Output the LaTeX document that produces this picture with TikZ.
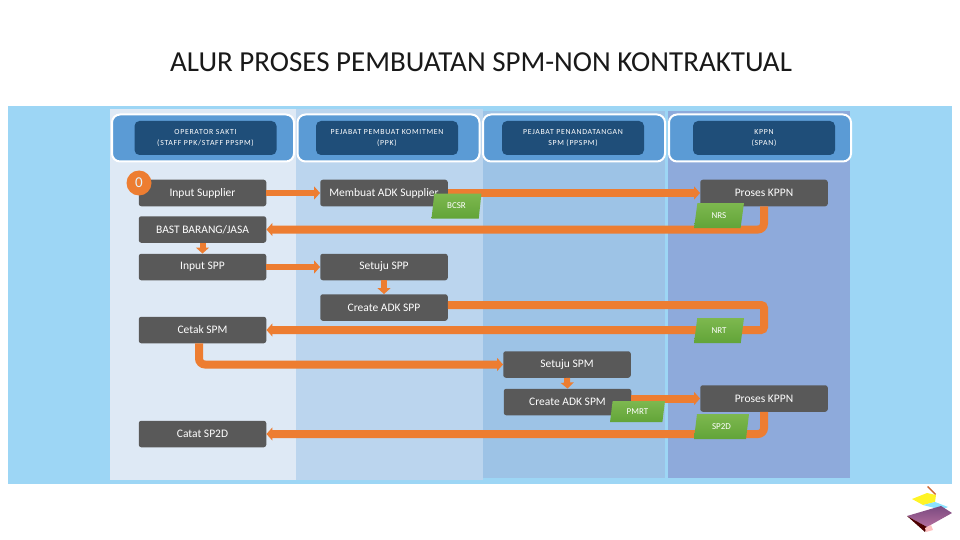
\documentclass[tikz,border=0pt]{standalone}
\usepackage{fontspec}
\setmainfont{Carlito}
\newfontfamily\headfont[LetterSpace=9]{Carlito}
\usetikzlibrary{arrows.meta,shapes.geometric}
\definecolor{bandblue}{HTML}{9DD6F5}
\definecolor{laneone}{HTML}{DEE9F5}
\definecolor{lanetwo}{HTML}{BBD5EE}
\definecolor{lanethree}{HTML}{9DC3E6}
\definecolor{lanefour}{HTML}{8EAADB}
\definecolor{headouter}{HTML}{5B9BD5}
\definecolor{headinner}{HTML}{1F4E79}
\definecolor{procgray}{HTML}{595959}
\definecolor{flowor}{HTML}{ED7D31}
\definecolor{greentop}{HTML}{7DB84F}
\definecolor{greenlow}{HTML}{62A438}
\definecolor{logotop}{HTML}{7A4A80}
\definecolor{logolow}{HTML}{B46E9E}
\begin{document}
\begin{tikzpicture}[x=1pt,y=-1pt,
    headouter/.style={draw=white,line width=2pt,rounded corners=8pt,fill=headouter,
        minimum width=182pt,minimum height=47pt,inner sep=0pt},
    headinner/.style={fill=headinner,rounded corners=5pt,text=white,align=center,
        minimum width=142pt,minimum height=34pt,inner sep=0pt,font=\fontsize{7.8}{11.5}\headfont},
    procbox/.style={fill=procgray,rounded corners=2.5pt,text=white,
        minimum width=127.5pt,minimum height=26.5pt,inner sep=0pt,font=\fontsize{11.5}{13}\selectfont},
    docbox/.style={trapezium,trapezium left angle=79,trapezium right angle=101,trapezium stretches=true,
        top color=greentop,bottom color=greenlow,text=white,
        minimum width=50pt,minimum height=25pt,inner sep=0pt,font=\fontsize{9}{10}\selectfont},
    bigflow/.style={draw=flowor,line width=8pt,rounded corners=6pt,-{Triangle[width=13pt,length=6pt]}},
    midflow/.style={draw=flowor,line width=6.5pt,-{Triangle[width=13pt,length=6pt]}}]
    \useasboundingbox (0,0) rectangle (960,540);

    \node[text=black!90,font=\fontsize{29}{32}\selectfont] (title) at (481,62)
        {ALUR PROSES PEMBUATAN SPM-NON KONTRAKTUAL};

    \fill[bandblue] (8,106) rectangle (952,484);
    \fill[laneone] (110,109) rectangle (296,480);
    \fill[lanetwo] (296,109) rectangle (483,480);
    \fill[lanethree] (483,111) rectangle (665,478);
    \fill[lanefour] (668,111) rectangle (850,478);

    \node[headouter] (outerone) at (203,138) {};
    \node[headouter] (outertwo) at (388.5,138) {};
    \node[headouter] (outerthree) at (574,138) {};
    \node[headouter] (outerfour) at (760,138) {};
    \node[headinner] (headone) at (205.5,138)
        {OPERATOR SAKTI\\(STAFF PPK/STAFF PPSPM)};
    \node[headinner] (headtwo) at (387,138)
        {PEJABAT PEMBUAT KOMITMEN\\(PPK)};
    \node[headinner] (headthree) at (573,138)
        {PEJABAT PENANDATANGAN\\SPM (PPSPM)};
    \node[headinner] (headfour) at (764,138)
        {KPPN\\(SPAN)};

    \node[procbox] (inputsupplier) at (202.5,193) {Input Supplier};
    \node[procbox] (adksupplier) at (384,193) {Membuat ADK Supplier};
    \node[procbox] (proseskppn) at (764,193) {Proses KPPN};
    \node[procbox] (bast) at (202.5,229.5) {BAST BARANG/JASA};
    \node[procbox] (inputspp) at (202.5,267) {Input SPP};
    \node[procbox] (setujuspp) at (384,267) {Setuju SPP};
    \node[procbox] (createspp) at (384,307.5) {Create ADK SPP};
    \node[procbox] (cetakspm) at (202.5,330) {Cetak SPM};
    \node[procbox] (setujuspm) at (567,364.5) {Setuju SPM};
    \node[procbox] (createspm) at (567.5,402) {Create ADK SPM};
    \node[procbox] (proseskppntwo) at (764,398.5) {Proses KPPN};
    \node[procbox] (catatsp) at (202.5,434) {Catat SP2D};

    \node[circle,fill=flowor,text=bandblue!30!white,minimum size=25pt,inner sep=0pt,
        font=\fontsize{15}{15}\selectfont] (startmark) at (139,183) {0};

    \coordinate (turnnrttop) at (764,305);
    \coordinate (turnnrtlow) at (764,330);

    \draw[midflow] (inputsupplier) -- (adksupplier);
    \draw[bigflow] (adksupplier.east) -- (proseskppn.west);
    \draw[bigflow] (proseskppn.south) |- (bast.east);
    \draw[midflow,line width=6pt] (bast.south) -- (inputspp.north);
    \draw[midflow] (inputspp) -- (setujuspp);
    \draw[midflow,line width=6pt] (setujuspp.south) -- (createspp.north);
    \draw[bigflow,rounded corners=3pt] (createspp.east |- turnnrttop) -- (turnnrttop) -- (turnnrtlow) -- (cetakspm.east);
    \draw[bigflow] ([xshift=-3.5pt]cetakspm.south) |- (setujuspm.west);
    \draw[midflow,line width=6pt] (setujuspm.south) -- (createspm.north);
    \draw[bigflow] (createspm.east |- proseskppntwo.west) -- (proseskppntwo.west);
    \draw[bigflow] (proseskppntwo.south) |- (catatsp.east);

    \node[docbox] (bcsr) at (456.5,206) {BCSR};
    \node[docbox] (nrs) at (719,215.5) {NRS};
    \node[docbox] (nrt) at (719,330.5) {NRT};
    \node[docbox,minimum width=55pt,minimum height=21pt] (pmrt) at (637.5,411.5) {PMRT};
    \node[docbox,minimum width=55pt] (sptwod) at (721.5,426.5) {SP2D};

    \fill[brown!80!red] (927,487) -- (928,486) -- (936,494) -- (935,495) -- cycle;
    \fill[yellow!85!white] (912,499) -- (927,493) -- (936,495) -- (935,502) -- (923,505) -- cycle;
    \fill[blue!25!cyan!45!white] (923,505) -- (935,502) -- (948,507) -- (941,510) -- (931,507) -- cycle;
    \shade[top color=logotop,bottom color=logolow]
        (907,516) -- (941,506) -- (952,513) -- (927,527) -- cycle;
    \fill[black!70!red] (907,516) -- (927,527) -- (925,532) -- cycle;
    \fill[red!25!white] (925,528) -- (931,525) -- (933,530) -- (926,532) -- cycle;
\end{tikzpicture}
\end{document}
